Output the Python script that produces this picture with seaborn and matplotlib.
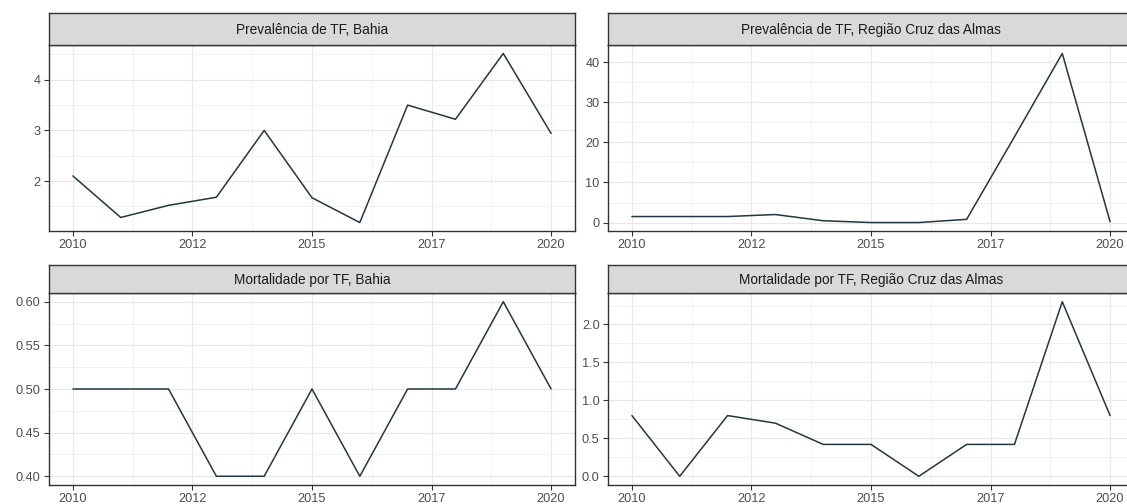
import matplotlib
matplotlib.use("Agg")
import matplotlib.pyplot as plt
from matplotlib.ticker import FixedLocator, FixedFormatter
import seaborn as sns
import pandas as pd
import numpy as np

sns.set_theme(style="white")
plt.rcParams['font.family'] = ['Liberation Sans', 'DejaVu Sans']

years = [2010, 2011, 2012, 2013, 2014, 2015, 2016, 2017, 2018, 2019, 2020]
prev_bahia = [2.1, 1.28, 1.52, 1.68, 3.0, 1.67, 1.18, 3.5, 3.22, 4.52, 2.94]
prev_cruz = [1.5, 1.5, 1.5, 2.0, 0.45, 0.0, 0.0, 0.8, 21.4, 42.2, 0.2]
mort_bahia = [0.5, 0.5, 0.5, 0.4, 0.4, 0.5, 0.4, 0.5, 0.5, 0.6, 0.5]
mort_cruz = [0.8, 0.0, 0.8, 0.7, 0.42, 0.42, 0.0, 0.42, 0.42, 2.3, 0.8]

panel_titles = ["Prevalência de TF, Bahia", "Prevalência de TF, Região Cruz das Almas",
                "Mortalidade por TF, Bahia", "Mortalidade por TF, Região Cruz das Almas"]
series = [prev_bahia, prev_cruz, mort_bahia, mort_cruz]

x_breaks = [2010, 2012.5, 2015, 2017.5, 2020]
x_labels = ["2010", "2012", "2015", "2017", "2020"]
y_breaks = [[2, 3, 4], [0, 10, 20, 30, 40],
            [0.40, 0.45, 0.50, 0.55, 0.60], [0.0, 0.5, 1.0, 1.5, 2.0]]
y_labels = [["2", "3", "4"], ["0", "10", "20", "30", "40"],
            ["0.40", "0.45", "0.50", "0.55", "0.60"], ["0.0", "0.5", "1.0", "1.5", "2.0"]]

df = pd.concat([pd.DataFrame({"ano": years, "valor": v, "painel": t})
                for v, t in zip(series, panel_titles)], ignore_index=True)

W, H = 1127, 504
fig = plt.figure(figsize=(W / 100, H / 100), dpi=100)
fig.patch.set_facecolor("white")

cols = [(49, 575), (608, 1134)]
rows = [((13, 45), (45, 231)), ((265, 293), (293, 485))]

line_color = "#24363f"
border = "#333333"

for i, title in enumerate(panel_titles):
    r, c = divmod(i, 2)
    x0, x1 = cols[c]
    (s0, s1), (p0, p1) = rows[r]
    ax = fig.add_axes([x0 / W, 1 - p1 / H, (x1 - x0) / W, (p1 - p0) / H])
    sax = fig.add_axes([x0 / W, 1 - s1 / H, (x1 - x0) / W, (s1 - s0) / H])

    sub = df[df["painel"] == title]
    sns.lineplot(data=sub, x="ano", y="valor", ax=ax, color=line_color,
                 linewidth=1.1, legend=False)

    vals = np.array(series[i])
    lo, hi = vals.min(), vals.max()
    pad = (hi - lo) * 0.05
    ax.set_ylim(lo - pad, hi + pad)
    ax.set_xlim(2009.5, 2020.5)

    ax.xaxis.set_major_locator(FixedLocator(x_breaks))
    ax.xaxis.set_major_formatter(FixedFormatter(x_labels))
    xb = x_breaks
    ax.xaxis.set_minor_locator(FixedLocator([(xb[k] + xb[k + 1]) / 2 for k in range(len(xb) - 1)]))
    yb = y_breaks[i]
    ax.yaxis.set_major_locator(FixedLocator(yb))
    ax.yaxis.set_major_formatter(FixedFormatter(y_labels[i]))
    step = yb[1] - yb[0]
    ymin = [yb[0] - step / 2] + [(yb[k] + yb[k + 1]) / 2 for k in range(len(yb) - 1)] + [yb[-1] + step / 2]
    ax.yaxis.set_minor_locator(FixedLocator(ymin))

    ax.grid(True, which="major", color="#E8E8E8", linewidth=0.9)
    ax.grid(True, which="minor", color="#EFEFEF", linewidth=0.6)
    ax.set_axisbelow(True)
    ax.tick_params(axis="both", which="major", length=3.5, width=0.8, color=border,
                   labelsize=9.2, labelcolor="#4D4D4D", pad=2.5, direction="out",
                   bottom=True, left=True)
    ax.tick_params(axis="both", which="minor", length=0)
    ax.set_xlabel("")
    ax.set_ylabel("")
    for sp in ax.spines.values():
        sp.set_color(border)
        sp.set_linewidth(1.0)
    ax.set_facecolor("white")

    sax.set_facecolor("#D9D9D9")
    sax.set_xticks([])
    sax.set_yticks([])
    for sp in sax.spines.values():
        sp.set_color(border)
        sp.set_linewidth(1.0)
    sax.text(0.5, 0.48, title, transform=sax.transAxes, ha="center", va="center",
             fontsize=9.8, color="#1A1A1A")

fig.savefig("out.png", dpi=100, facecolor="white")
